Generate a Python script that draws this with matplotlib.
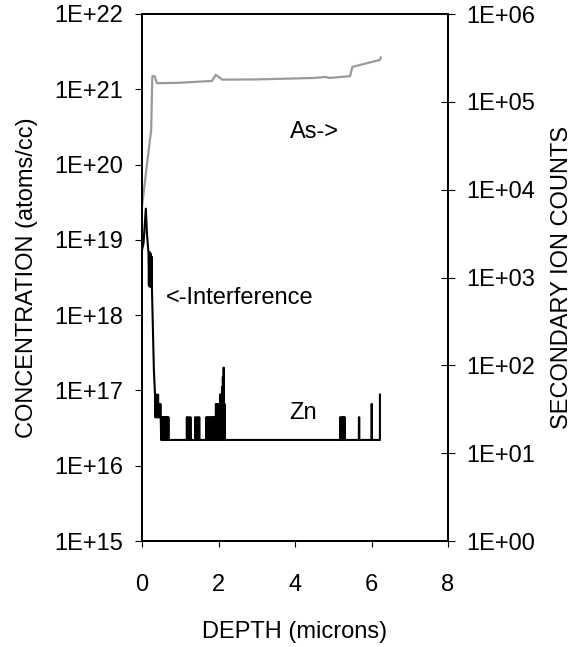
import matplotlib
matplotlib.use("Agg")
import matplotlib.pyplot as plt
from matplotlib.ticker import NullLocator

plt.rcParams['font.family'] = ['Liberation Sans', 'DejaVu Sans']
plt.rcParams['font.size'] = 17

# As matrix signal (secondary ion counts, right axis)
as_depth = [0.00, 0.12, 0.24, 0.27, 0.33, 0.39, 1.00, 1.83, 1.93, 2.10, 3.00,
            4.50, 4.80, 4.90, 5.44, 5.50, 6.22, 6.24]
as_counts = [6.3e3, 1.8e4, 4.8e4, 1.96e5, 1.96e5, 1.63e5, 1.65e5, 1.73e5, 2.03e5,
             1.79e5, 1.80e5, 1.87e5, 1.92e5, 1.87e5, 1.96e5, 2.5e5, 3.0e5, 3.2e5]

# Zn profile near the surface (atoms/cc, left axis)
zn_depth = [0.00, 0.04, 0.10, 0.13, 0.17, 0.18, 0.19, 0.20, 0.21, 0.22, 0.23,
            0.24, 0.25, 0.26, 0.28, 0.31, 0.34,
            0.35, 0.36, 0.37, 0.38, 0.39, 0.40, 0.41, 0.42, 0.43, 0.44, 0.45,
            0.46, 0.47, 0.48, 0.49, 0.50,
            0.51, 0.52, 0.53, 0.54, 0.55, 0.56, 0.57, 0.58, 0.59, 0.60, 0.61,
            0.62, 0.63, 0.64, 0.65, 0.66, 0.67, 0.68, 0.69, 0.70]
zn_conc = [7.3e18, 9.0e18, 2.6e19, 1.2e19, 6.6e18, 2.5e18, 6.8e18, 2.4e18, 6.8e18,
           2.4e18, 6.5e18, 2.4e18, 6.0e18, 2.3e18, 8.0e17, 1.9e17, 8.8e16,
           4.4e16, 8.8e16, 4.4e16, 8.8e16, 4.4e16, 6.6e16, 4.4e16, 8.8e16, 4.4e16,
           6.6e16, 4.4e16, 6.6e16, 4.4e16, 6.6e16, 4.4e16, 2.2e16,
           4.4e16, 2.2e16, 4.4e16, 2.2e16, 4.4e16, 2.2e16, 4.4e16, 2.2e16, 4.4e16,
           2.2e16, 4.4e16, 2.2e16, 4.4e16, 2.2e16, 4.4e16, 2.2e16, 4.4e16, 2.2e16,
           4.4e16, 2.2e16]

# detection floor and isolated noise spikes deeper in
zn_floor = 2.2e16
spike_depth = [1.17, 1.21, 1.26, 1.39, 1.44, 1.49, 1.68, 1.72, 1.76, 1.80, 1.84,
               1.87, 1.90, 1.93, 1.96, 1.99, 2.02, 2.04, 2.07, 2.09, 2.11, 2.13, 2.15,
               5.18, 5.22, 5.26, 5.29, 5.67, 6.00]
spike_conc = [4.4e16, 4.4e16, 4.4e16, 4.4e16, 4.4e16, 4.4e16, 4.4e16, 4.4e16,
              4.4e16, 4.4e16, 4.4e16, 4.4e16, 4.4e16, 6.6e16, 6.6e16, 6.6e16,
              6.6e16, 8.8e16, 8.8e16, 1.1e17, 1.5e17, 2.0e17, 6.6e16,
              4.4e16, 4.4e16, 4.4e16, 4.4e16, 4.4e16, 6.6e16]
zn_end_depth = 6.22
zn_end_conc = 8.8e16

left_exp = list(range(15, 23))
right_exp = list(range(0, 7))
x_ticks = [0, 2, 4, 6, 8]

# build the Zn trace: surface part, then floor with narrow spikes
xs = list(zn_depth)
ys = list(zn_conc)
for d, c in zip(spike_depth, spike_conc):
    xs += [d, d, d + 0.012, d + 0.012]
    ys += [zn_floor, c, c, zn_floor]
xs += [zn_end_depth, zn_end_depth]
ys += [zn_floor, zn_end_conc]

fig = plt.figure(figsize=(5.8, 6.47), dpi=100)
ax = fig.add_axes([142 / 580, 1 - 541 / 647, 306 / 580, 527 / 647])
ax2 = ax.twinx()

ax.plot(xs, ys, color='black', lw=1.5)
ax2.plot(as_depth, as_counts, color='#9a9a9a', lw=1.6)

ax.set_yscale('log')
ax2.set_yscale('log')
ax.set_xlim(0, 8)
ax.set_ylim(1e15, 1e22)
ax2.set_ylim(1, 1e6)

ax.set_xticks(x_ticks)
ax.set_yticks([10.0 ** e for e in left_exp], labels=[f"1E+{e:02d}" for e in left_exp])
ax2.set_yticks([10.0 ** e for e in right_exp], labels=[f"1E+{e:02d}" for e in right_exp])
ax.yaxis.set_minor_locator(NullLocator())
ax2.yaxis.set_minor_locator(NullLocator())

for a in (ax, ax2):
    for s in a.spines.values():
        s.set_linewidth(1.4)
ax.tick_params(axis='y', direction='out', length=5, width=0.8, pad=8.5)
ax.tick_params(axis='x', direction='out', length=4.5, width=0.8, pad=19)
ax2.tick_params(axis='y', direction='inout', length=10, width=0.8, pad=8.5)

ax.set_ylabel('CONCENTRATION (atoms/cc)', va='center')
ax.yaxis.set_label_coords(-0.376, 0.5)
ax2.set_ylabel('SECONDARY ION COUNTS', va='center', rotation=90)
ax2.yaxis.set_label_coords(1.3725, 0.5)
ax.set_xlabel('DEPTH (microns)', va='center')
ax.xaxis.set_label_coords(0.5, -0.1727)

ax.text(3.87, 2.7e20, 'As->', va='center', ha='left')
ax.text(0.63, 1.7e18, '<-Interference', va='center', ha='left')
ax.text(3.84, 5.0e16, 'Zn', va='center', ha='left')

fig.savefig('out.png', dpi=100)
